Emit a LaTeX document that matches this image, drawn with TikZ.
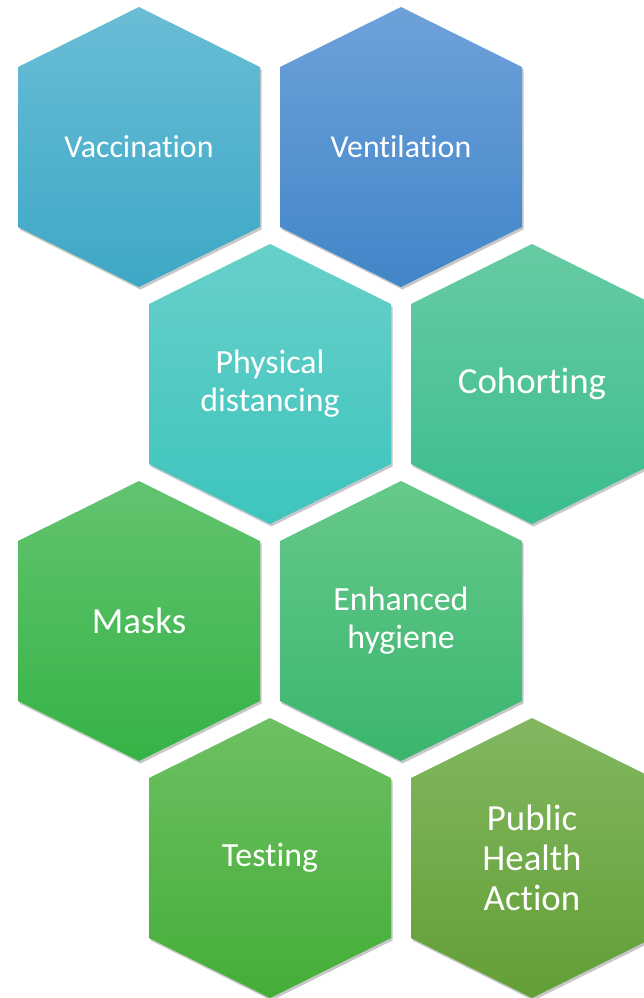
\documentclass[tikz,border=0pt]{standalone}
\usepackage{fontspec}
\setmainfont[RawFeature={-liga;-clig;-calt;-dlig}]{Carlito}
\usetikzlibrary{shadows}

\definecolor{vacTop}{RGB}{106,189,213}
\definecolor{vacBot}{RGB}{61,168,198}
\definecolor{venTop}{RGB}{110,161,218}
\definecolor{venBot}{RGB}{65,134,200}
\definecolor{phyTop}{RGB}{103,208,201}
\definecolor{phyBot}{RGB}{62,196,190}
\definecolor{cohTop}{RGB}{103,203,162}
\definecolor{cohBot}{RGB}{58,189,142}
\definecolor{masTop}{RGB}{99,195,111}
\definecolor{masBot}{RGB}{53,179,70}
\definecolor{hygTop}{RGB}{102,201,138}
\definecolor{hygBot}{RGB}{58,181,112}
\definecolor{tesTop}{RGB}{110,192,99}
\definecolor{tesBot}{RGB}{67,174,55}
\definecolor{phaTop}{RGB}{130,183,96}
\definecolor{phaBot}{RGB}{98,159,53}

\begin{document}
\begin{tikzpicture}
[x=1bp,y=-1bp,every node/.style={text=white,align=center},
 hexsmall/.style={font=\fontsize{32}{38}\selectfont},
 hexmid/.style={font=\fontsize{34}{38}\selectfont},
 hexbig/.style={font=\fontsize{37}{40}\selectfont},
 hexshade/.style={drop shadow={shadow xshift=1.5bp,shadow yshift=-2.5bp,opacity=.22,fill=black}}]

  \useasboundingbox (0,0) rectangle (644,998);
  \clip (0,0) rectangle (644,998);

  \foreach \cx/\cy/\ct/\cb in {139/147/vacTop/vacBot,401/147/venTop/venBot,
      270/384/phyTop/phyBot,532/384/cohTop/cohBot,139/621/masTop/masBot,
      401/621/hygTop/hygBot,270/858/tesTop/tesBot,532/858/phaTop/phaBot}
    \path[hexshade,top color=\ct,bottom color=\cb] (\cx,\cy) ++(0,-140)
      -- ++(121,60) -- ++(0,160) -- ++(-121,60) -- ++(-121,-60) -- ++(0,-160) -- cycle;

  \node[hexsmall] (vac) at (139,147) {Vaccination};
  \node[hexsmall] (ven) at (401,147) {Ventilation};
  \node[hexmid] (phy) at (270,384) {Physical\\distancing};
  \node[hexbig] (coh) at (532,384) {Cohorting};
  \node[hexbig] (mas) at (139,621) {Masks};
  \node[hexmid] (hyg) at (401,621) {Enhanced\\hygiene};
  \node[hexmid] (tes) at (270,858) {Testing};
  \node[hexbig] (pha) at (532,858) {Public\\Health\\Action};
\end{tikzpicture}
\end{document}
